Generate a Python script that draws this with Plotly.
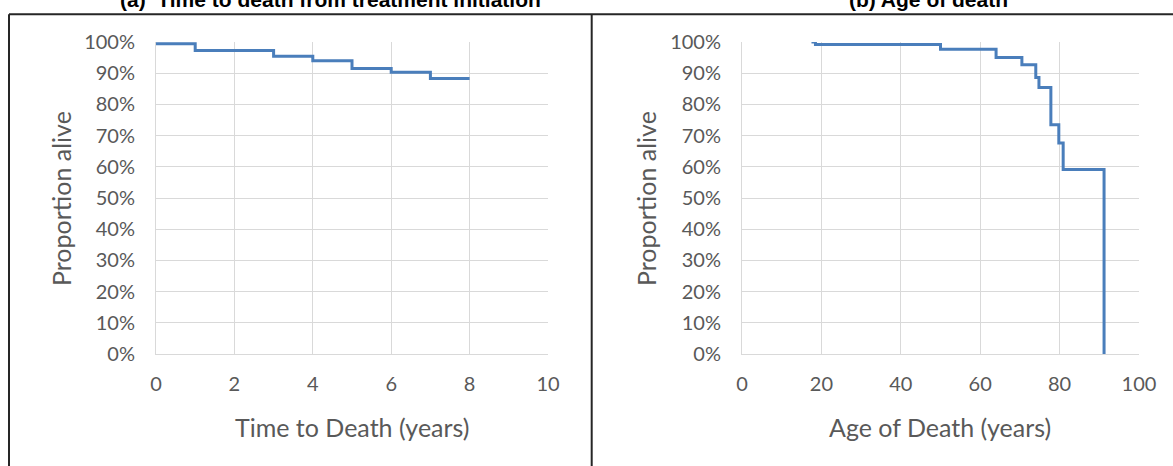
import plotly.graph_objects as go

W, H = 1173, 466

# Panel (a): Kaplan-Meier style survival vs time from treatment initiation
time_years = [0, 1, 3, 4, 5, 6, 7, 8]
surv_time = [0.994, 0.973, 0.954, 0.940, 0.915, 0.903, 0.883, 0.883]

# Panel (b): survival vs age
age_years = [17.5, 18.5, 50, 64, 70.5, 74, 74.8, 77.8, 79.8, 80.9, 91.2]
surv_age = [1.0, 0.992, 0.977, 0.950, 0.927, 0.886, 0.854, 0.735, 0.676, 0.591, 0.0]

title_a = "(a)  Time to death from treatment initiation"
title_b = "(b) Age of death"
xtitle_a = "Time to Death (years)"
xtitle_b = "Age of Death (years)"
ytitle = "Proportion alive"

def px(x):
    return x / W

def py(y):
    return 1 - y / H

LINE = "#4a7ebb"
GRID = "#d9d9d9"
TICK = "#595959"
FONT = "Lato"

fig = go.Figure()
fig.add_trace(go.Scatter(x=time_years, y=surv_time, mode="lines", line_shape="hv",
                         line=dict(color=LINE, width=3), xaxis="x", yaxis="y",
                         showlegend=False))
fig.add_trace(go.Scatter(x=age_years, y=surv_age, mode="lines", line_shape="hv",
                         line=dict(color=LINE, width=3), xaxis="x2", yaxis="y2",
                         showlegend=False))

ydom = [py(354), py(42)]
common_x = dict(showgrid=True, gridcolor=GRID, gridwidth=1, zeroline=False,
                showline=True, linecolor=GRID, linewidth=1,
                tickfont=dict(family=FONT, size=20, color=TICK),
                ticks="", ticklabelstandoff=12, fixedrange=True)
common_y = dict(showgrid=True, gridcolor=GRID, gridwidth=1, zeroline=False,
                showline=True, linecolor=GRID, linewidth=1,
                range=[0, 1.0], dtick=0.1, tick0=0, tickformat=".0%",
                tickfont=dict(family=FONT, size=20, color=TICK),
                ticks="", ticklabelstandoff=16, domain=ydom, fixedrange=True)

fig.update_layout(
    width=W, height=H,
    margin=dict(l=0, r=0, t=0, b=0, autoexpand=False),
    paper_bgcolor="white", plot_bgcolor="white",
    xaxis=dict(common_x, domain=[px(156), px(548)], range=[0, 10], dtick=2, anchor="y"),
    yaxis=dict(common_y, anchor="x"),
    xaxis2=dict(common_x, domain=[px(742), px(1139)], range=[0, 100], dtick=20, anchor="y2"),
    yaxis2=dict(common_y, anchor="x2"),
)

at_font = dict(family=FONT, size=25, color=TICK)
title_font = dict(family="Liberation Sans", size=21, color="black")
annotations = [
    dict(text="<b>" + title_a + "</b>", x=px(330), y=py(-1), xref="paper", yref="paper",
         xanchor="center", yanchor="middle", showarrow=False, font=title_font),
    dict(text="<b>" + title_b + "</b>", x=px(928), y=py(-1), xref="paper", yref="paper",
         xanchor="center", yanchor="middle", showarrow=False, font=title_font),
    dict(text=xtitle_a, x=px(352), y=py(427), xref="paper", yref="paper",
         xanchor="center", yanchor="middle", showarrow=False, font=at_font),
    dict(text=xtitle_b, x=px(940), y=py(427), xref="paper", yref="paper",
         xanchor="center", yanchor="middle", showarrow=False, font=at_font),
    dict(text=ytitle, x=px(61), y=py(199), xref="paper", yref="paper", textangle=-90,
         xanchor="center", yanchor="middle", showarrow=False, font=at_font),
    dict(text=ytitle, x=px(646), y=py(199), xref="paper", yref="paper", textangle=-90,
         xanchor="center", yanchor="middle", showarrow=False, font=at_font),
]
fig.update_layout(annotations=annotations)

BOX = dict(color="#262626", width=2)
fig.update_layout(shapes=[
    dict(type="line", xref="paper", yref="paper", x0=px(9), x1=1.01, y0=py(14.3), y1=py(14.3), line=BOX),
    dict(type="line", xref="paper", yref="paper", x0=px(9), x1=px(9), y0=py(14.3), y1=-0.05, line=BOX),
    dict(type="line", xref="paper", yref="paper", x0=px(591.7), x1=px(591.7), y0=py(14.3), y1=-0.05, line=BOX),
])

fig.write_html("out.html", config={"displayModeBar": False},
               post_script="document.body.style.margin='0px';document.body.style.overflow='hidden';")
